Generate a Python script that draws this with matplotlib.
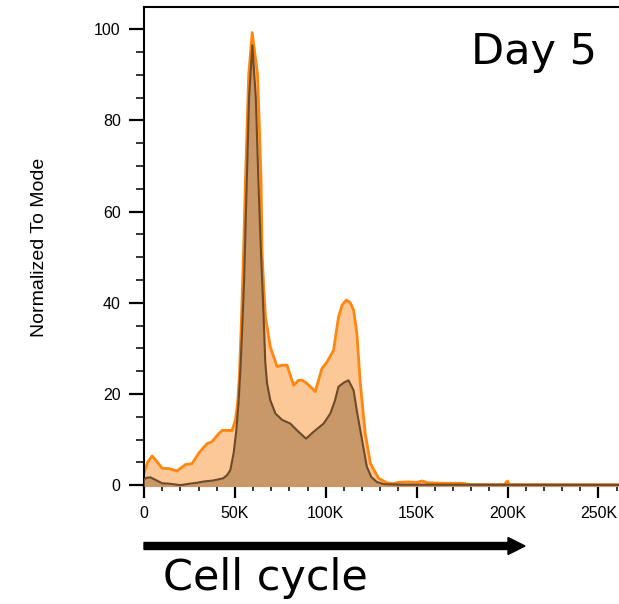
import matplotlib.pyplot as plt
from matplotlib.patches import FancyArrow
from matplotlib.ticker import MultipleLocator, FixedLocator

# light (orange) histogram: channel (K) and normalized count
light_k = [0, 2, 4.5, 7, 10, 14, 18.2, 22.8, 26.4, 30.1, 34.7, 37.4, 41.1, 43, 47.5,
           48.4, 50.3, 51.5, 52.5, 53.5, 54.8, 55.8, 57.6, 59.5, 62.5, 64.4, 64.9,
           65.8, 66.8, 69.5, 73.2, 76, 78.7, 82.3, 85, 86.9, 89, 91.5, 94.2, 97.9,
           100.7, 104.3, 107, 109, 111.3, 113.5, 115.3, 117.1, 119, 121.7, 124.5,
           129, 133.6, 137, 140, 145, 150, 153, 156, 165, 175, 180, 198, 200, 201, 262]
light_v = [2.6, 5.0, 6.4, 5.2, 3.7, 3.6, 3.1, 4.5, 4.7, 7.0, 9.1, 9.5, 11.3, 12.0, 12.0,
           11.9, 14.3, 18, 24, 35, 51.5, 67, 90, 99.3, 90, 67, 51.5,
           44, 37, 30.3, 26, 26.3, 26.3, 21.9, 23, 23, 22.5, 21.6, 20.5, 25.6,
           27, 29.6, 36.9, 39.5, 40.6, 40, 38.4, 33.3, 22.3, 11.3, 4.8,
           1.5, 0.5, 0.3, 0.6, 0.7, 0.6, 0.9, 0.5, 0.4, 0.4, 0.1, 0.1, 0.9, 0.1, 0.1]

# dark (brown) histogram
dark_k = [0, 1.5, 3.6, 6, 10, 14, 20, 25, 29, 33, 38, 43.6, 45.7, 47.5, 49.3, 50.8,
          52, 53, 54, 55, 56.3, 57.8, 59.6, 61.5, 63, 64.3, 65.8, 66.7, 67.7, 69.5,
          72.3, 76, 80.5, 84.2, 89.1, 93.3, 98.8, 102.5, 105, 107, 110, 112.5,
          115.3, 117, 119, 122.6, 125, 128, 132, 140, 262]
dark_v = [1.25, 1.6, 1.7, 1.2, 0.4, 0.3, 0.0, 0.3, 0.5, 0.8, 1.0, 1.5, 2.2, 3.3, 7.0, 12.0,
          18, 25, 34, 44, 63, 85, 96.5, 85, 66, 51.5, 37, 27, 22.3, 18.6,
          15.7, 14.3, 13.5, 12, 10.2, 11.7, 13.5, 15.7, 18.5, 21.6, 22.5, 23,
          20.8, 16.5, 12, 4, 1.8, 0.7, 0.2, 0.1, 0.05]

x_ticks = [0, 50, 100, 150, 200, 250]
x_labels = ["0", "50K", "100K", "150K", "200K", "250K"]
y_ticks = [0, 20, 40, 60, 80, 100]

plt.rcParams["font.family"] = ["Liberation Sans", "DejaVu Sans"]

fig = plt.figure(figsize=(6.19, 6.04), dpi=100)
ax = fig.add_axes([144 / 619, 1 - 486 / 604, 1 - 144 / 619, (486 - 7) / 604])

ax.fill_between(light_k, light_v, -1, color="#fdc897", lw=0, zorder=1)
ax.plot(light_k, light_v, color="#ff860f", lw=2.0, solid_joinstyle="round", zorder=2)
ax.fill_between(dark_k, dark_v, -1, color="#c99868", lw=0, zorder=3)
ax.plot(dark_k, dark_v, color="#6e4a28", lw=1.5, solid_joinstyle="round", zorder=4)

ax.set_xlim(0, 261.3)
ax.set_ylim(-0.2, 104.9)

ax.xaxis.set_major_locator(FixedLocator(x_ticks))
ax.set_xticklabels(x_labels)
ax.xaxis.set_minor_locator(MultipleLocator(10))
ax.set_yticks(y_ticks)
ax.yaxis.set_minor_locator(MultipleLocator(5))

ax.tick_params(axis="x", which="major", direction="out", length=8.6, width=1.6,
               labelsize=11.5, pad=6)
ax.tick_params(axis="x", which="minor", direction="out", length=3.6, width=1.1)
ax.tick_params(axis="y", which="major", direction="out", length=10.8, width=1.6,
               labelsize=11.5, pad=6)
ax.tick_params(axis="y", which="minor", direction="out", length=5.8, width=1.1)

ax.spines["right"].set_visible(False)
for s in ["left", "top", "bottom"]:
    ax.spines[s].set_linewidth(1.5)

fig.text(40 / 619, 1 - 247 / 604, "Normalized To Mode", rotation=90,
         ha="center", va="center", fontsize=14)
fig.text(534 / 619, 1 - 52 / 604, "Day 5", ha="center", va="center",
         fontsize=31, family="DejaVu Sans")
fig.text(163 / 619, 1 - 578 / 604, "Cell cycle", ha="left", va="center",
         fontsize=31, family="DejaVu Sans")

arrow = FancyArrow(1.44, (604 - 546) / 100, 3.81, 0, width=0.07, head_width=0.17,
                   head_length=0.17, length_includes_head=True, color="black",
                   transform=fig.dpi_scale_trans)
fig.patches.append(arrow)

fig.savefig("out.png", dpi=100)
